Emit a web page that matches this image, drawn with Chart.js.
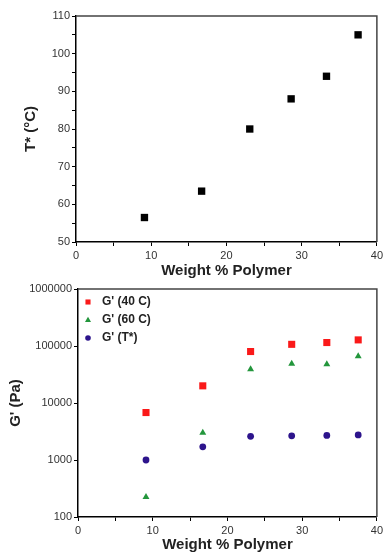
<!DOCTYPE html>
<html><head><meta charset="utf-8">
<script src="https://cdn.jsdelivr.net/npm/chart.js@4/dist/chart.umd.min.js"></script>
<style>
html,body{margin:0;padding:0;background:#fff;}
#w1{position:absolute;left:0;top:0;width:386px;height:280px;}
#w2{position:absolute;left:0;top:280px;width:386px;height:275px;}
</style></head>
<body>
<div id="w1"><canvas id="c1"></canvas></div>
<div id="w2"><canvas id="c2"></canvas></div>
<script>
// ---- data ----
const weightPct = [9.1, 16.7, 23.1, 28.6, 33.3, 37.5];
const tStar = [56.5, 63.5, 80, 88, 94, 105];
const g40 = [6800, 20000, 80000, 107000, 115000, 128000];
const g60 = [224, 3000, 39000, 49000, 48000, 66000];
const gT = [1000, 1700, 2600, 2650, 2700, 2750];
const seriesLabels = ["G' (40 C)", "G' (60 C)", "G' (T*)"];
const xTitle = "Weight % Polymer";
const yTitleTop = "T* (°C)";
const yTitleBottom = "G' (Pa)";

const FONT = "Arial, 'Liberation Sans', sans-serif";
const pts = (ys) => weightPct.map((x, i) => ({x: x, y: ys[i]}));

const framePlugin = {
  id: 'frame',
  afterDraw(chart) {
    const a = chart.chartArea, ctx = chart.ctx;
    ctx.save();
    ctx.strokeStyle = '#444';
    ctx.lineWidth = 1.5;
    ctx.beginPath();
    ctx.moveTo(a.left, a.top); ctx.lineTo(a.right, a.top); ctx.lineTo(a.right, a.bottom);
    ctx.stroke();
    ctx.restore();
  }
};

function drawMarker(ctx, style, x, y, r, color) {
  ctx.fillStyle = color;
  ctx.beginPath();
  if (style === 'rect') {
    const s = Math.SQRT1_2 * r;
    ctx.rect(x - s, y - s, 2 * s, 2 * s);
  } else if (style === 'triangle') {
    ctx.moveTo(x, y - r);
    ctx.lineTo(x + r * 0.95, y + r * 0.65);
    ctx.lineTo(x - r * 0.95, y + r * 0.65);
    ctx.closePath();
  } else {
    ctx.arc(x, y, r, 0, Math.PI * 2);
  }
  ctx.fill();
}

const innerLegend = {
  id: 'innerLegend',
  afterDraw(chart) {
    const a = chart.chartArea, ctx = chart.ctx;
    ctx.save();
    ctx.font = "bold 12px " + FONT;
    ctx.textBaseline = 'middle';
    ctx.textAlign = 'left';
    chart.data.datasets.forEach((ds, i) => {
      const y = a.top + 13 + i * 18;
      drawMarker(ctx, ds.pointStyle, a.left + 10, y, ds.legendRadius, ds.backgroundColor);
      ctx.fillStyle = '#222';
      ctx.fillText(ds.label, a.left + 24, y);
    });
    ctx.restore();
  }
};

function linearX(titlePadBottom) {
  return {
    type: 'linear', min: 0, max: 40,
    afterFit(s) { s.height = 38; },
    ticks: {
      stepSize: 5, color: '#333', padding: 3,
      font: {family: FONT, size: 11},
      callback: v => (v % 10 === 0 ? String(v) : '')
    },
    grid: {drawOnChartArea: false, drawTicks: true, tickLength: 4, tickColor: '#000', tickWidth: 1},
    border: {color: '#000', width: 1.5},
    title: {display: true, text: xTitle, color: '#222',
      font: {family: FONT, size: 15, weight: 'bold'}, padding: {top: 0, bottom: titlePadBottom}}
  };
}

new Chart(document.getElementById('c1'), {
  type: 'scatter',
  data: {datasets: [{
    label: 'T*', data: pts(tStar),
    pointStyle: 'rect', pointRadius: 5.2, backgroundColor: '#000', borderColor: '#000', borderWidth: 0
  }]},
  options: {
    responsive: true, maintainAspectRatio: false, animation: false,
    layout: {padding: {left: 0, right: 8, top: 16, bottom: 0}},
    plugins: {legend: {display: false}, tooltip: {enabled: false}},
    scales: {
      x: linearX(0),
      y: {
        type: 'linear', min: 50, max: 110,
        afterFit(s) { s.width = 76; },
        ticks: {stepSize: 5, color: '#333', padding: 2,
          font: {family: FONT, size: 11},
          callback: v => (v % 10 === 0 ? String(v) : '')},
        grid: {drawOnChartArea: false, drawTicks: true, tickLength: 4, tickColor: '#000'},
        border: {color: '#000', width: 1.5},
        title: {display: true, text: yTitleTop, color: '#222',
          font: {family: FONT, size: 15, weight: 'bold'}, padding: {top: 22, bottom: 0}}
      }
    }
  },
  plugins: [framePlugin]
});

new Chart(document.getElementById('c2'), {
  type: 'scatter',
  data: {datasets: [
    {label: seriesLabels[0], data: pts(g40), pointStyle: 'rect', pointRadius: 5,
      legendRadius: 3.6, backgroundColor: 'rgb(250,25,25)', borderColor: 'rgb(250,25,25)', borderWidth: 0},
    {label: seriesLabels[1], data: pts(g60), pointStyle: 'triangle', pointRadius: 4,
      legendRadius: 3.2, backgroundColor: 'rgb(35,150,60)', borderColor: 'rgb(35,150,60)', borderWidth: 0},
    {label: seriesLabels[2], data: pts(gT), pointStyle: 'circle', pointRadius: 3.4,
      legendRadius: 2.8, backgroundColor: 'rgb(45,20,140)', borderColor: 'rgb(45,20,140)', borderWidth: 0}
  ]},
  options: {
    responsive: true, maintainAspectRatio: false, animation: false,
    layout: {padding: {left: 0, right: 7, top: 9, bottom: 0}},
    plugins: {legend: {display: false}, tooltip: {enabled: false}},
    scales: {
      x: linearX(1),
      y: {
        type: 'logarithmic', min: 100, max: 1000000,
        afterFit(s) { s.width = 78; },
        afterBuildTicks(s) {
          s.ticks = s.ticks.filter(t => Math.abs(Math.log10(t.value) - Math.round(Math.log10(t.value))) < 1e-9);
        },
        ticks: {color: '#333', padding: 2, autoSkip: false,
          font: {family: FONT, size: 11},
          callback: v => String(Math.round(v))},
        grid: {drawOnChartArea: false, drawTicks: true, tickLength: 4, tickColor: '#000'},
        border: {color: '#000', width: 1.5},
        title: {display: true, text: yTitleBottom, color: '#222',
          font: {family: FONT, size: 15, weight: 'bold'}, padding: {top: 7, bottom: 0}}
      }
    }
  },
  plugins: [framePlugin, innerLegend]
});
</script>
</body></html>
